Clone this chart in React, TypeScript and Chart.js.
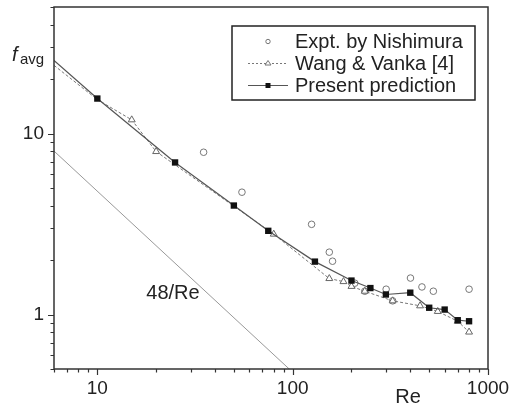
import React, { useEffect, useRef } from "react";
import { Chart, registerables } from "chart.js";
Chart.register(...registerables);

// Experimental data (circles)
const exptRe = [35, 55, 125, 154, 160, 208, 234, 301, 325, 401, 459, 525, 800];
const exptF = [7.88, 4.74, 3.15, 2.21, 1.97, 1.49, 1.345, 1.38, 1.19, 1.59, 1.42, 1.345, 1.38];

// Wang & Vanka [4] (triangles, dashed)
const wangRe = [6, 10, 15, 20, 80, 154, 182, 200, 234, 325, 449, 553, 700, 800];
const wangF = [23.8, 15.4, 11.9, 7.95, 2.78, 1.58, 1.52, 1.43, 1.345, 1.19, 1.117, 1.04, 0.918, 0.8];

// Present prediction (filled squares, solid)
const presRe = [6, 10, 25, 50, 75, 130, 200, 250, 300, 400, 500, 600, 700, 800];
const presF = [25.3, 15.6, 6.92, 4.0, 2.9, 1.96, 1.54, 1.4, 1.29, 1.32, 1.09, 1.065, 0.93, 0.918];

// 48/Re reference line
const laminarRe = [6, 100];
const laminarCoef = 48;

const xTicks = [6, 7, 8, 9, 10, 20, 30, 40, 50, 60, 70, 80, 90, 100, 200, 300, 400, 500, 600, 700, 800, 900, 1000];
const xMajor = [10, 100, 1000];
const yTicks = [0.5, 0.6, 0.7, 0.8, 0.9, 1, 2, 3, 4, 5, 6, 7, 8, 9, 10, 20, 30, 40, 50];
const yMajor = [1, 10];

const FONT = "'Liberation Sans', Arial, sans-serif";

const pts = (xs: number[], ys: number[]) => xs.map((x, i) => ({ x, y: ys[i] }));

const overlay = {
  id: "overlay",
  afterDraw(chart: any) {
    const ctx = chart.ctx as CanvasRenderingContext2D;
    const { left, right, top, bottom } = chart.chartArea;
    const xs = chart.scales.x;
    const ys = chart.scales.y;
    ctx.save();
    // ticks
    ctx.strokeStyle = "#333";
    ctx.lineWidth = 1.2;
    ctx.beginPath();
    xTicks.forEach((v) => {
      const px = Math.round(xs.getPixelForValue(v)) + 0.5;
      const len = xMajor.includes(v) ? 6 : 3.5;
      ctx.moveTo(px, bottom);
      ctx.lineTo(px, bottom + len);
    });
    yTicks.forEach((v) => {
      const py = Math.round(ys.getPixelForValue(v)) + 0.5;
      const len = yMajor.includes(v) ? 6 : 3.5;
      ctx.moveTo(left, py);
      ctx.lineTo(left - len, py);
    });
    ctx.stroke();
    // frame
    ctx.lineWidth = 1.5;
    ctx.strokeStyle = "#333";
    ctx.strokeRect(left, top, right - left, bottom - top);

    // axis titles
    ctx.fillStyle = "#222";
    ctx.textBaseline = "alphabetic";
    ctx.textAlign = "left";
    ctx.font = `italic 20px ${FONT}`;
    ctx.fillText("f", 12, 61);
    ctx.font = `15px ${FONT}`;
    ctx.fillText("avg", 20, 64);
    ctx.font = `20px ${FONT}`;
    ctx.textAlign = "center";
    ctx.fillText("Re", 408, 403);
    ctx.fillText("48/Re", 173, 299);

    // legend
    const lx = 232, ly = 26, lw = 243, lh = 74;
    ctx.fillStyle = "#fff";
    ctx.fillRect(lx, ly, lw, lh);
    ctx.strokeStyle = "#222";
    ctx.lineWidth = 1.5;
    ctx.strokeRect(lx, ly, lw, lh);
    const rows = [
      { t: "Expt. by Nishimura", y: 41 },
      { t: "Wang & Vanka [4]", y: 63 },
      { t: "Present prediction", y: 85 },
    ];
    // row 2 dashed
    ctx.lineWidth = 1;
    ctx.strokeStyle = "#777";
    ctx.setLineDash([2, 2]);
    ctx.beginPath();
    ctx.moveTo(248, rows[1].y + 0.5);
    ctx.lineTo(288, rows[1].y + 0.5);
    ctx.stroke();
    ctx.setLineDash([]);
    // row 3 solid
    ctx.strokeStyle = "#555";
    ctx.lineWidth = 1.2;
    ctx.beginPath();
    ctx.moveTo(248, rows[2].y + 0.5);
    ctx.lineTo(288, rows[2].y + 0.5);
    ctx.stroke();
    // markers
    ctx.fillStyle = "#fff";
    ctx.strokeStyle = "#777";
    ctx.lineWidth = 1;
    ctx.beginPath();
    ctx.arc(268, rows[0].y + 0.5, 2.2, 0, Math.PI * 2);
    ctx.stroke();
    ctx.beginPath();
    ctx.moveTo(268, rows[1].y - 2.5);
    ctx.lineTo(271, rows[1].y + 2);
    ctx.lineTo(265, rows[1].y + 2);
    ctx.closePath();
    ctx.fill();
    ctx.stroke();
    ctx.fillStyle = "#111";
    ctx.fillRect(265.5, rows[2].y - 2, 5, 5);

    ctx.fillStyle = "#222";
    ctx.font = `20px ${FONT}`;
    ctx.textAlign = "left";
    ctx.textBaseline = "middle";
    rows.forEach((r) => ctx.fillText(r.t, 295, r.y + 1));
    ctx.restore();
  },
};

export default function App() {
  const ref = useRef<HTMLCanvasElement | null>(null);
  useEffect(() => {
    if (!ref.current) return;
    const chart = new Chart(ref.current, {
      type: "scatter",
      data: {
        datasets: [
          {
            label: "Present prediction",
            data: pts(presRe, presF),
            showLine: true,
            borderColor: "#555",
            borderWidth: 1.2,
            backgroundColor: "#111",
            pointBackgroundColor: "#111",
            pointBorderColor: "#111",
            pointStyle: "rect",
            pointRadius: (c: any) => (c.dataIndex === 0 ? 0 : 4.5),
            pointBorderWidth: 0,
            order: 0,
          },
          {
            label: "Wang & Vanka [4]",
            data: pts(wangRe, wangF),
            showLine: true,
            borderColor: "#777",
            borderWidth: 1,
            borderDash: [3, 2],
            pointStyle: "triangle",
            pointBackgroundColor: "#fff",
            pointBorderColor: "#666",
            pointBorderWidth: 1,
            pointRadius: (c: any) => (c.dataIndex < 2 ? 0 : 4),
            order: 1,
          },
          {
            label: "Expt. by Nishimura",
            data: pts(exptRe, exptF),
            showLine: false,
            pointStyle: "circle",
            pointBackgroundColor: "rgba(255,255,255,0)",
            pointBorderColor: "#777",
            pointBorderWidth: 1,
            pointRadius: 3.3,
            order: 2,
          },
          {
            label: "48/Re",
            data: laminarRe.map((r) => ({ x: r, y: laminarCoef / r })),
            showLine: true,
            borderColor: "#999",
            borderWidth: 1,
            pointRadius: 0,
            order: 3,
          },
        ],
      },
      options: {
        animation: false,
        responsive: false,
        maintainAspectRatio: false,
        layout: { padding: { top: 7, right: 22, left: 0, bottom: 0 } },
        plugins: { legend: { display: false }, tooltip: { enabled: false } },
        scales: {
          x: {
            type: "logarithmic",
            min: 6,
            max: 1000,
            afterBuildTicks: (s: any) => {
              s.ticks = xTicks.map((v) => ({ value: v }));
            },
            afterFit: (s: any) => {
              s.height = 36;
              s.paddingLeft = 0;
              s.paddingRight = 0;
            },
            grid: { display: false, tickLength: 0, drawTicks: false },
            border: { display: false },
            ticks: {
              autoSkip: false,
              maxRotation: 0,
              padding: 8,
              color: "#222",
              font: { family: FONT, size: 19 },
              callback: (v: any) => (xMajor.includes(Number(v)) ? String(v) : ""),
            },
          },
          y: {
            type: "logarithmic",
            min: 0.5,
            max: 50,
            afterBuildTicks: (s: any) => {
              s.ticks = yTicks.map((v) => ({ value: v }));
            },
            afterFit: (s: any) => {
              s.width = 54;
              s.paddingTop = 0;
              s.paddingBottom = 0;
            },
            grid: { display: false, tickLength: 0, drawTicks: false },
            border: { display: false },
            ticks: {
              autoSkip: false,
              padding: 10,
              color: "#222",
              font: { family: FONT, size: 19 },
              callback: (v: any) => (yMajor.includes(Number(v)) ? String(v) : ""),
            },
          },
        },
      },
      plugins: [overlay],
    } as any);
    return () => chart.destroy();
  }, []);
  return (
    <div style={{ position: "fixed", left: 0, top: 0, width: 510, height: 405, background: "#fff" }}>
      <canvas ref={ref} width={510} height={405} style={{ display: "block" }} />
    </div>
  );
}
